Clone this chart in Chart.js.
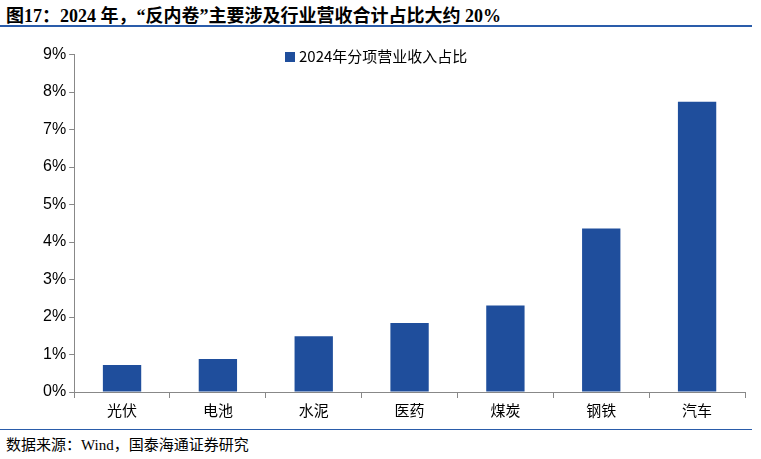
<!DOCTYPE html>
<html><head><meta charset="utf-8">
<script src="https://cdn.jsdelivr.net/npm/chart.js@4"></script>
<style>
body{margin:0;width:761px;height:459px;background:#fff;position:relative;overflow:hidden;font-family:"Liberation Serif","Noto Sans CJK SC",serif}
#title{position:absolute;left:6px;top:1px;font-size:18px;font-weight:bold;color:#000}
#tl{position:absolute;left:0;top:25px;width:752px;height:2px;background:#2a5caa}
#bl{position:absolute;left:0;top:429px;width:752px;height:1px;background:#2a5caa}
#src{position:absolute;left:6px;top:433px;font-size:15px;color:#000}
#wrap{position:absolute;left:0;top:42px;width:761px;height:380px}
#leg{position:absolute;left:285px;top:45px;font-size:15px;font-family:"Noto Sans CJK SC",sans-serif;color:#000}
#leg span{display:inline-block;width:10px;height:10px;background:#1f4e9c;margin-right:4px}
</style></head><body>
<div id="title">图17：2024 年，“反内卷”主要涉及行业营收合计占比大约 20%</div>
<div id="tl"></div>
<div id="wrap"><canvas id="c"></canvas></div>
<div id="leg"><span></span>2024年分项营业收入占比</div>
<div id="bl"></div>
<div id="src">数据来源：Wind，国泰海通证券研究</div>
<script>
const categories=["光伏","电池","水泥","医药","煤炭","钢铁","汽车"];
const values=[0.72,0.88,1.49,1.84,2.31,4.36,7.74];
const seriesName="2024年分项营业收入占比";
const yTicks=[0,1,2,3,4,5,6,7,8,9];
new Chart(document.getElementById('c'),{
type:'bar',
data:{labels:categories,datasets:[{label:seriesName,data:values,backgroundColor:'#1f4e9c',barPercentage:0.4,categoryPercentage:1}]},
options:{responsive:true,maintainAspectRatio:false,animation:false,
layout:{padding:{left:40,right:16,top:2,bottom:0}},
plugins:{legend:{display:false},tooltip:{enabled:false}},
scales:{
x:{grid:{display:true,drawOnChartArea:false,offset:true,color:'#888',tickLength:6},border:{color:'#888'},ticks:{color:'#000',font:{size:15,family:'"Noto Sans CJK SC",sans-serif'}}},
y:{min:0,max:9,afterBuildTicks:a=>{a.ticks=yTicks.map(v=>({value:v}))},grid:{display:true,drawOnChartArea:false,color:'#888',tickLength:5},border:{color:'#888'},ticks:{color:'#000',font:{size:16,family:'"Liberation Sans",sans-serif'},callback:v=>v+'%'}}
}}});
</script></body></html>
